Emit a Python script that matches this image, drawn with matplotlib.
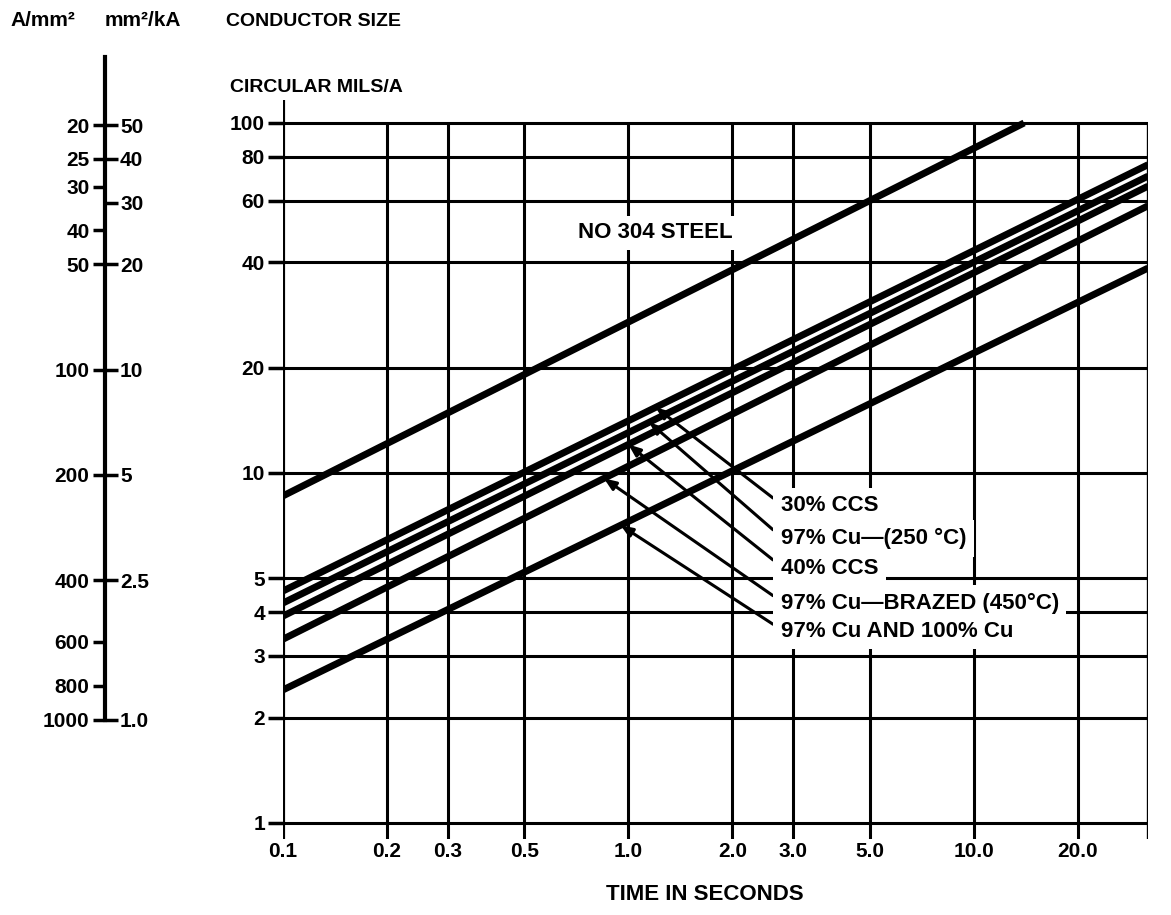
'''短絡時の導体サイズ - 時間 グラフ (log-log)'''

import numpy as np
import matplotlib
matplotlib.use('Agg')
import matplotlib.pyplot as plt
from matplotlib.ticker import NullLocator

plt.rcParams['font.family'] = ['Liberation Sans', 'DejaVu Sans']
plt.rcParams['font.weight'] = 'bold'

### データ
t_end = [0.1, 32.0]            #- 各直線の両端の時間 (s)
ccs30 = [4.6, 76.0]            #- CIRCULAR MILS/A
cu250 = [4.25, 70.5]
ccs40 = [3.9, 66.0]
brazed = [3.35, 58.0]
cu100 = [2.4, 38.5]
steel_t = [0.1, 14.0]
steel_y = [8.6, 100.0]

curves = [ccs30, cu250, ccs40, brazed, cu100]
names = ['30% CCS', '97% Cu\u2014(250 °C)', '40% CCS',
         '97% Cu\u2014BRAZED (450°C)', '97% Cu AND 100% Cu']
name_y = [8.05, 6.5, 5.35, 4.25, 3.53]
arrow_t = [1.2, 1.15, 1.0, 0.85, 0.95]

x_ticks = [0.1, 0.2, 0.3, 0.5, 1.0, 2.0, 3.0, 5.0, 10.0, 20.0]
x_labels = ['0.1', '0.2', '0.3', '0.5', '1.0', '2.0', '3.0', '5.0', '10.0', '20.0']
y_ticks = [1, 2, 3, 4, 5, 10, 20, 40, 60, 80, 100]
y_labels = ['1', '2', '3', '4', '5', '10', '20', '40', '60', '80', '100']

amm2_ticks = [20, 25, 30, 40, 50, 100, 200, 400, 600, 800, 1000]
amm2_labels = ['20', '25', '30', '40', '50', '100', '200', '400', '600', '800', '1000']
mm2ka_ticks = [50, 40, 30, 20, 10, 5, 2.5, 1.0]
mm2ka_labels = ['50', '40', '30', '20', '10', '5', '2.5', '1.0']

### 描画
fig = plt.figure(figsize=(11.71, 9.15), dpi=100)
ax = fig.add_axes([0.2417, 0.0831, 0.7387, 0.8553])
ax.set_xscale('log')
ax.set_yscale('log')
ax.set_xlim(0.1, 32)
ax.set_ylim(0.9, 155)
for s in ax.spines.values():
    s.set_visible(False)

#### 格子
ax.hlines(y_ticks, 0.1, 32, colors='k', lw=2.2, zorder=1)
ax.vlines(x_ticks[1:], 0.9, 100, colors='k', lw=2.2, zorder=1)
ax.vlines(0.1, 0.9, 116, colors='k', lw=3.0, zorder=1)
ax.vlines(32, 0.9, 100, colors='k', lw=2.4, zorder=1)

ax.set_xticks(x_ticks, x_labels)
ax.set_yticks(y_ticks, y_labels)
ax.xaxis.set_minor_locator(NullLocator())
ax.yaxis.set_minor_locator(NullLocator())
ax.tick_params(axis='x', length=0, pad=2, labelsize=15)
ax.tick_params(axis='y', length=11, width=2.5, pad=2, labelsize=15)

#### 直線
for c in curves:
    ax.plot(t_end, c, color='k', lw=5.0, solid_capstyle='butt', zorder=4)
ax.plot(steel_t, steel_y, color='k', lw=5.0, solid_capstyle='butt', zorder=4)

#### ラベルと矢印
box = dict(facecolor='white', edgecolor='none', pad=5.5)
for c, nm, yy, ta in zip(curves, names, name_y, arrow_t):
    ya = 10**np.interp(np.log10(ta), np.log10(t_end), np.log10(c))
    ax.annotate(nm, xy=(ta, ya), xytext=(2.76, yy), textcoords='data',
                ha='left', va='center', fontsize=16, bbox=box, zorder=3,
                arrowprops=dict(arrowstyle='-|>,head_length=0.5,head_width=0.2',
                                color='k', lw=2.2, mutation_scale=14,
                                relpos=(0.0, 0.6), shrinkA=0, shrinkB=0))
ax.text(1.2, 48.5, 'NO 304 STEEL', ha='center', va='center', fontsize=16,
        bbox=dict(facecolor='white', edgecolor='none', pad=5), zorder=3)

#### 左側の換算目盛
sec_a = ax.secondary_yaxis(-0.206, functions=(lambda y: 1973.5 / np.asarray(y),
                                              lambda y: 1973.5 / np.asarray(y)))
sec_a.set_yticks(amm2_ticks, amm2_labels)
sec_a.yaxis.set_minor_locator(NullLocator())
sec_a.tick_params(axis='y', length=9, width=2.5, pad=2, labelsize=15)
sec_a.spines['left'].set_linewidth(3.0)
sec_a.spines['left'].set_bounds(12.8, 1000)

sec_k = ax.secondary_yaxis(-0.206, functions=(lambda y: 0.5067 * np.asarray(y),
                                              lambda y: np.asarray(y) / 0.5067))
sec_k.set_alignment('right')
sec_k.spines['right'].set_visible(False)
sec_k.set_yticks(mm2ka_ticks, mm2ka_labels)
sec_k.yaxis.set_minor_locator(NullLocator())
sec_k.tick_params(axis='y', length=9, width=2.5, pad=2, labelsize=15)

#### 見出し
fig.text(10 / 1171, 1 - 20 / 915, 'A/mm²', fontsize=15, va='center')
fig.text(105 / 1171, 1 - 20 / 915, 'mm²/kA', fontsize=15, va='center')
fig.text(226 / 1171, 1 - 22 / 915, 'CONDUCTOR SIZE', fontsize=14, va='center')
fig.text(230 / 1171, 1 - 87 / 915, 'CIRCULAR MILS/A', fontsize=14, va='center')
fig.text(705 / 1171, 1 - 895 / 915, 'TIME IN SECONDS', fontsize=16,
         ha='center', va='center')

fig.savefig('out.png', dpi=100)
